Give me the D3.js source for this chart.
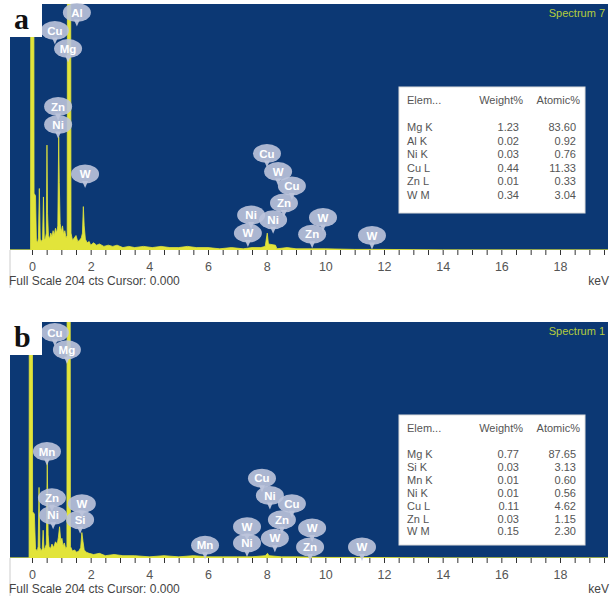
<!DOCTYPE html>
<html>
<head>
<meta charset="utf-8">
<script src="https://cdn.jsdelivr.net/npm/d3@7"></script>
<style>
  body { margin: 0; background: #fff; }
  svg { display: block; font-family: 'Liberation Sans', Arial, sans-serif; }
</style>
</head>
<body>
<div id="chart"></div>
<script>
// axis labels (keV)
const ticksKeV = [0, 2, 4, 6, 8, 10, 12, 14, 16, 18];

// spectrum a: [keV, counts] (full scale 204 cts)
const spectrumA = [
  [-0.8, 0], [-0.05, 0], [-0.03, 600], [0.05, 600], [0.07, 47], [0.12, 45], [0.15, 8],
  [0.19, 6], [0.22, 10], [0.25, 51], [0.28, 9], [0.32, 7], [0.36, 9], [0.39, 44], [0.42, 8], [0.46, 10],
  [0.49, 14], [0.51, 87], [0.53, 30], [0.56, 12], [0.6, 9], [0.64, 14], [0.68, 11], [0.72, 16], [0.76, 12],
  [0.8, 18], [0.84, 14], [0.88, 20], [0.91, 94], [0.93, 56], [0.96, 22], [1.0, 15], [1.04, 20], [1.08, 13],
  [1.12, 16], [1.16, 10], [1.2, 12], [1.22, 600], [1.3, 600], [1.33, 14], [1.38, 8], [1.44, 10], [1.5, 12],
  [1.56, 7], [1.62, 8], [1.68, 10], [1.72, 14], [1.75, 36], [1.78, 20], [1.82, 9], [1.88, 6], [1.95, 7],
  [2.0, 4], [2.1, 6], [2.2, 4], [2.3, 5], [2.45, 3], [2.6, 4], [2.75, 3], [2.9, 4], [3.1, 2], [3.3, 3],
  [3.5, 2], [3.8, 3], [4.1, 2], [4.4, 3], [4.7, 2], [5.0, 2], [5.3, 3], [5.6, 2], [6.0, 2], [6.4, 1],
  [6.8, 2], [7.2, 1], [7.5, 2], [7.8, 2], [7.95, 3], [8.02, 14], [8.06, 5], [8.3, 4], [8.35, 1], [8.7, 2],
  [9.0, 1], [9.5, 1], [10, 1], [11, 0.5], [12, 0.5], [14, 0], [19.7, 0]
];

// spectrum b
const spectrumB = [
  [-0.8, 0], [-0.1, 0], [-0.08, 600], [0.0, 600], [0.02, 40], [0.08, 38], [0.12, 8],
  [0.18, 6], [0.21, 10], [0.24, 61], [0.27, 9], [0.31, 6], [0.35, 8], [0.38, 24], [0.41, 7], [0.45, 9],
  [0.49, 12], [0.52, 85], [0.55, 20], [0.58, 10], [0.63, 8], [0.68, 12], [0.74, 9], [0.8, 14], [0.86, 12],
  [0.9, 18], [0.94, 27], [0.98, 15], [1.02, 17], [1.06, 10], [1.1, 13], [1.15, 8], [1.19, 10], [1.21, 600],
  [1.29, 600], [1.31, 10], [1.38, 6], [1.45, 7], [1.52, 5], [1.6, 6], [1.66, 9], [1.7, 22], [1.74, 14],
  [1.78, 7], [1.85, 5], [1.95, 4], [2.1, 3], [2.3, 4], [2.5, 2], [2.8, 3], [3.1, 2], [3.5, 2], [4.0, 1],
  [4.5, 2], [5.0, 1], [5.5, 2], [6.0, 1], [6.5, 1], [7.0, 1], [7.5, 1], [7.95, 2], [8.03, 4], [8.08, 2],
  [8.5, 1], [9.0, 1], [10, 0.5], [11, 0.5], [14, 0], [19.7, 0]
];

// peak balloons: element, keV, counts
const balloonsA = [
  ['Al', 1.53, 197], ['Cu', 0.78, 182], ['Mg', 1.23, 167], ['Zn', 0.89, 119], ['Ni', 0.89, 104],
  ['W', 1.81, 63], ['Cu', 8.01, 80], ['W', 8.39, 65], ['Cu', 8.86, 53], ['Zn', 8.59, 39],
  ['Ni', 7.47, 29], ['Ni', 8.22, 25], ['W', 9.92, 27], ['W', 7.36, 14], ['Zn', 9.55, 13], ['W', 11.59, 12]
];
const balloonsB = [
  ['Cu', 0.78, 195], ['Mg', 1.19, 180], ['Mn', 0.51, 92], ['Zn', 0.68, 52], ['Ni', 0.72, 37],
  ['W', 1.7, 47], ['Si', 1.64, 33], ['Mn', 5.9, 11], ['Cu', 7.84, 69], ['Ni', 8.11, 54],
  ['Cu', 8.86, 47], ['Zn', 8.52, 33], ['W', 7.33, 27], ['W', 9.55, 26], ['Ni', 7.33, 13],
  ['W', 8.28, 17], ['Zn', 9.48, 9.5], ['W', 11.25, 9.5]
];

// quantification tables
const tableHeader = ['Elem...', 'Weight%', 'Atomic%'];
const elementsA = ['Mg K', 'Al K', 'Ni K', 'Cu L', 'Zn L', 'W M'];
const weightA = ['1.23', '0.02', '0.03', '0.44', '0.01', '0.34'];
const atomicA = ['83.60', '0.92', '0.76', '11.33', '0.33', '3.04'];
const elementsB = ['Mg K', 'Si K', 'Mn K', 'Ni K', 'Cu L', 'Zn L', 'W M'];
const weightB = ['0.77', '0.03', '0.01', '0.01', '0.11', '0.03', '0.15'];
const atomicB = ['87.65', '3.13', '0.60', '0.56', '4.62', '1.15', '2.30'];

const W = 613, H = 600;
const svg = d3.select('#chart').append('svg').attr('width', W).attr('height', H);

const blue = '#0c3874';
const yellow = '#e2e43a';

function drawPanel(cfg) {
  const { top, bottom, spectrum, balloons, elems, weights, atomics, tag, name, table, id } = cfg;
  const left = 10, right = 608;
  const x = d3.scaleLinear().domain([0, 18]).range([32, 560]);
  const y = d3.scaleLinear().domain([0, 204]).range([bottom, top]);
  const g = svg.append('g');

  g.append('rect').attr('x', left).attr('y', top).attr('width', right - left).attr('height', bottom - top).attr('fill', blue);

  g.append('clipPath').attr('id', id).append('rect')
    .attr('x', left).attr('y', top).attr('width', right - left).attr('height', bottom - top);

  const area = d3.area().x(d => x(d[0])).y0(bottom).y1(d => y(d[1]));
  g.append('path').datum(spectrum).attr('clip-path', `url(#${id})`)
    .attr('d', area).attr('fill', yellow).attr('stroke', yellow).attr('stroke-width', 0.8);

  // axis strip
  g.append('line').attr('x1', left).attr('x2', left).attr('y1', bottom).attr('y2', bottom + 38)
    .attr('stroke', '#ccc');
  const axis = d3.axisBottom(x).tickValues(d3.range(0, 19.6, 0.5)).tickSize(5).tickPadding(7)
    .tickFormat(d => (ticksKeV.includes(d) ? d : ''));
  const ax = g.append('g').attr('transform', `translate(0,${bottom})`).call(axis);
  ax.select('.domain').remove();
  ax.selectAll('line').attr('stroke', '#333');
  ax.selectAll('text').attr('fill', '#555').style('font-size', '12.5px');

  g.append('text').attr('x', 9).attr('y', bottom + 35).attr('fill', '#444').style('font-size', '12px')
    .text('Full Scale 204 cts Cursor: 0.000');
  g.append('text').attr('x', 609).attr('y', bottom + 35).attr('text-anchor', 'end').attr('fill', '#444')
    .style('font-size', '12px').text('keV');

  g.append('text').attr('x', 605).attr('y', top + 13).attr('text-anchor', 'end').attr('fill', '#b4cc3c')
    .style('font-size', '11px').text(name);

  // balloons
  const b = g.selectAll('g.balloon').data(balloons).join('g')
    .attr('transform', d => `translate(${x(d[1])},${y(d[2])})`);
  b.append('path').attr('d', 'M-3,7 L0,14 L3,7 Z').attr('fill', '#c4cbe0').attr('opacity', 0.9);
  b.append('ellipse').attr('rx', 14).attr('ry', 9.5).attr('fill', '#bcc4dc').attr('opacity', 0.9);
  b.append('text').attr('text-anchor', 'middle').attr('dy', '0.36em').attr('fill', '#fff')
    .style('font-size', '11.5px').style('font-weight', 'bold').text(d => d[0]);

  // table
  const tb = g.append('g').attr('transform', `translate(${table.x},${table.y})`);
  tb.append('rect').attr('width', 186).attr('height', table.h).attr('fill', '#fff').attr('stroke', '#ddd');
  const ts = tb.append('g').attr('fill', '#555').style('font-size', '11px');
  ts.append('text').attr('x', 8).attr('y', 17).text(tableHeader[0]);
  ts.append('text').attr('x', 124).attr('y', 17).attr('text-anchor', 'end').text(tableHeader[1]);
  ts.append('text').attr('x', 181).attr('y', 17).attr('text-anchor', 'end').text(tableHeader[2]);
  elems.forEach((e, i) => {
    const ry = table.row0 + i * table.step;
    ts.append('text').attr('x', 8).attr('y', ry).text(e);
    ts.append('text').attr('x', 120).attr('y', ry).attr('text-anchor', 'end').text(weights[i]);
    ts.append('text').attr('x', 177).attr('y', ry).attr('text-anchor', 'end').text(atomics[i]);
  });

  // panel letter
  g.append('rect').attr('x', 0).attr('y', top - 4).attr('width', 42).attr('height', 37).attr('fill', '#fff');
  g.append('text').attr('x', 14).attr('y', top + 25).style('font-family', "'Liberation Serif', serif")
    .style('font-weight', 'bold').style('font-size', '30px').attr('fill', '#111').text(tag);
}

drawPanel({
  id: 'clipA', top: 4, bottom: 250, spectrum: spectrumA, balloons: balloonsA,
  elems: elementsA, weights: weightA, atomics: atomicA, tag: 'a', name: 'Spectrum 7',
  table: { x: 399, y: 87, h: 126, row0: 44, step: 13.5 }
});
drawPanel({
  id: 'clipB', top: 322, bottom: 558, spectrum: spectrumB, balloons: balloonsB,
  elems: elementsB, weights: weightB, atomics: atomicB, tag: 'b', name: 'Spectrum 1',
  table: { x: 399, y: 415, h: 130, row0: 43, step: 12.9 }
});
</script>
</body>
</html>
